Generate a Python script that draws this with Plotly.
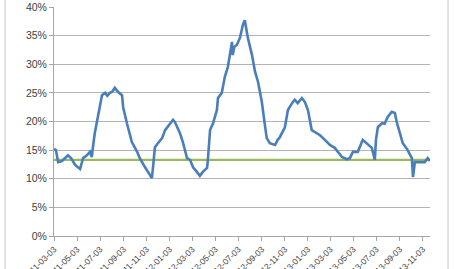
import plotly.graph_objects as go

dates = [
    "2011-03-03", "2011-03-08", "2011-03-14", "2011-03-24", "2011-04-09", "2011-04-17",
    "2011-04-28", "2011-05-11", "2011-05-19", "2011-05-29", "2011-06-06", "2011-06-11",
    "2011-06-14", "2011-06-19", "2011-06-27", "2011-07-08", "2011-07-16", "2011-07-22",
    "2011-07-29", "2011-08-04", "2011-08-11", "2011-08-19", "2011-08-30", "2011-09-02",
    "2011-09-12", "2011-09-25", "2011-10-09", "2011-10-16", "2011-10-30", "2011-11-07",
    "2011-11-17", "2011-11-20", "2011-11-25", "2011-12-03", "2011-12-14", "2011-12-22",
    "2012-01-04", "2012-01-12", "2012-01-17", "2012-01-30", "2012-02-07", "2012-02-18",
    "2012-02-26", "2012-03-05", "2012-03-15", "2012-03-23", "2012-03-31", "2012-04-11",
    "2012-04-13", "2012-04-19", "2012-04-27", "2012-05-02", "2012-05-07", "2012-05-10",
    "2012-05-20", "2012-05-28", "2012-06-05", "2012-06-16", "2012-06-18", "2012-06-22",
    "2012-06-29", "2012-07-07", "2012-07-15", "2012-07-20", "2012-07-28", "2012-08-08",
    "2012-08-16", "2012-08-24", "2012-09-03", "2012-09-11", "2012-09-16", "2012-09-24",
    "2012-10-08", "2012-10-15", "2012-10-21", "2012-11-03", "2012-11-11", "2012-11-22",
    "2012-11-29", "2012-12-07", "2012-12-18", "2012-12-26", "2013-01-03", "2013-01-13",
    "2013-01-27", "2013-02-04", "2013-02-17", "2013-03-02", "2013-03-15", "2013-03-23",
    "2013-04-03", "2013-04-16", "2013-04-24", "2013-05-02", "2013-05-15", "2013-05-28",
    "2013-06-08", "2013-06-21", "2013-06-29", "2013-07-02", "2013-07-07", "2013-07-18",
    "2013-07-25", "2013-08-02", "2013-08-13", "2013-08-21", "2013-08-26", "2013-09-03",
    "2013-09-11", "2013-09-22", "2013-09-30", "2013-10-05", "2013-10-08", "2013-10-13",
    "2013-10-26", "2013-11-08", "2013-11-16", "2013-11-22",
]
volatility = [
    0.152, 0.150, 0.129, 0.131, 0.141, 0.136,
    0.124, 0.117, 0.136, 0.141, 0.147, 0.138,
    0.155, 0.180, 0.208, 0.246, 0.250, 0.245,
    0.250, 0.252, 0.259, 0.252, 0.246, 0.225,
    0.197, 0.164, 0.147, 0.136, 0.120, 0.112,
    0.101, 0.120, 0.155, 0.162, 0.171, 0.185,
    0.197, 0.203, 0.199, 0.180, 0.164, 0.136,
    0.133, 0.120, 0.112, 0.105, 0.112, 0.119,
    0.131, 0.185, 0.197, 0.211, 0.220, 0.241,
    0.250, 0.278, 0.295, 0.339, 0.316, 0.330,
    0.334, 0.346, 0.369, 0.377, 0.346, 0.316,
    0.287, 0.269, 0.234, 0.194, 0.171, 0.162,
    0.159, 0.168, 0.173, 0.190, 0.220, 0.232,
    0.238, 0.232, 0.241, 0.234, 0.220, 0.185,
    0.180, 0.176, 0.168, 0.159, 0.154, 0.147,
    0.138, 0.134, 0.136, 0.147, 0.147, 0.168,
    0.162, 0.154, 0.133, 0.168, 0.190, 0.197,
    0.196, 0.208, 0.217, 0.215, 0.199, 0.180,
    0.162, 0.152, 0.141, 0.136, 0.103, 0.129,
    0.129, 0.129, 0.136, 0.131,
]
average_level = 0.133

tick_dates = [
    "2011-03-03", "2011-05-03", "2011-07-03", "2011-09-03", "2011-11-03",
    "2012-01-03", "2012-03-03", "2012-05-03", "2012-07-03", "2012-09-03", "2012-11-03",
    "2013-01-03", "2013-03-03", "2013-05-03", "2013-07-03", "2013-09-03", "2013-11-03",
]
tick_labels = [
    "11-03-03", "11-05-03", "11-07-03", "11-09-03", "11-11-03",
    "12-01-03", "12-03-03", "12-05-03", "12-07-03", "12-09-03", "12-11-03",
    "13-01-03", "13-03-03", "13-05-03", "13-07-03", "13-09-03", "13-11-03",
]
y_ticks = [0, 0.05, 0.10, 0.15, 0.20, 0.25, 0.30, 0.35, 0.40]

fig = go.Figure()
fig.add_trace(go.Scatter(
    x=[dates[0], dates[-1]], y=[average_level, average_level], mode="lines",
    line=dict(color="#9BBB59", width=2.2), hoverinfo="skip", showlegend=False,
))
fig.add_trace(go.Scatter(
    x=dates, y=volatility, mode="lines",
    line=dict(color="#4A7EBB", width=2.6), showlegend=False,
))

fig.update_layout(
    width=455, height=269,
    margin=dict(l=54, r=25, t=7, b=33),
    paper_bgcolor="white", plot_bgcolor="white",
    font=dict(family="Liberation Sans, Arial, sans-serif", color="#404040"),
    xaxis=dict(
        range=[dates[0], dates[-1]], automargin=False,
        tickvals=tick_dates, ticktext=tick_labels, tickangle=-45,
        tickfont=dict(size=8.5), showgrid=False, zeroline=False,
        showline=True, linecolor="#A6A6A6", linewidth=1,
        ticks="outside", ticklen=4, tickcolor="#A6A6A6",
    ),
    yaxis=dict(
        range=[0, 0.40], tickvals=y_ticks, tickformat=".0%", automargin=False,
        tickfont=dict(size=10.5), showgrid=True, gridcolor="#B3B3B3", gridwidth=1,
        zeroline=False, showline=True, linecolor="#A6A6A6", linewidth=1,
        ticks="outside", ticklen=4, tickcolor="#A6A6A6",
    ),
    shapes=[dict(
        type="rect", xref="paper", yref="paper",
        x0=-0.130, x1=1.048, y0=-0.3, y1=1.2,
        line=dict(color="#D0D0D0", width=1.2), fillcolor="rgba(0,0,0,0)", layer="below",
    )],
)

fig.write_html("out.html")
